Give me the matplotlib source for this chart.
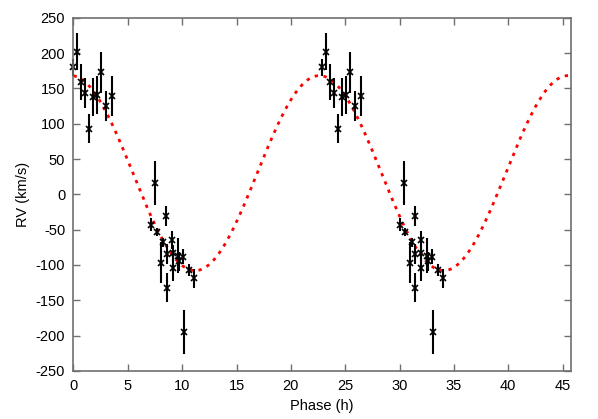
import numpy as np
import matplotlib
matplotlib.use('Agg')
import matplotlib.pyplot as plt

# Orbital period (h) and sinusoid fit parameters
period = 22.87
gamma = 30.0
k_amp = 138.0
phase0 = -0.25

# Measured RVs (one cycle), repeated once more at +period
phase = [0.0, 0.32, 0.72, 1.09, 1.45, 1.82, 2.19, 2.56, 2.99, 3.54,
         7.16, 7.5, 7.65, 8.05, 8.26, 8.51, 8.57, 8.57, 9.06, 9.12,
         9.12, 9.64, 9.75, 10.08, 10.19, 10.65, 11.12]
rv = [180, 202, 159, 143, 93, 138, 140, 173, 125, 139,
      -43, 16, -53, -97, -68, -31, -84, -132, -65, -83,
      -104, -87, -95, -88, -195, -107, -119]
rv_err = [12, 26, 26, 21, 20, 27, 27, 29, 21, 28,
          9, 31, 6, 29, 6, 14, 14, 20, 13, 12,
          19, 25, 14, 10, 31, 8, 13]

plt.rcParams['font.family'] = ['Liberation Sans', 'DejaVu Sans']
plt.rcParams['axes.unicode_minus'] = False

fig = plt.figure(figsize=(5.98, 4.19), dpi=100)
ax = fig.add_axes([0.1229, 0.1146, 0.8314, 0.8432])

xx = np.linspace(0, 2 * period, 600)
ax.plot(xx, gamma + k_amp * np.cos(2 * np.pi * (xx - phase0) / period),
        color='#ff0000', lw=2, dashes=(1.2, 2.0), zorder=1)

for off in (0, period):
    eb = ax.errorbar(np.array(phase) + off, rv, yerr=rv_err, fmt='x', color='black',
                     ms=4.5, mew=1.2, elinewidth=1.5, capsize=0, zorder=2)
    for art in eb.get_children():
        art.set_clip_on(False)

ax.set_xlim(0, 2 * period)
ax.set_ylim(-250, 250)
ax.set_xticks(np.arange(0, 46, 5))
ax.set_yticks(np.arange(-250, 251, 50))
ax.tick_params(direction='in', length=5, width=1, color='#707070',
               top=True, right=True, labelsize=10.5, pad=6)
for s in ax.spines.values():
    s.set_color('#707070')
    s.set_linewidth(1.2)
ax.set_xlabel('Phase (h)', fontsize=10.5, labelpad=4)
ax.set_ylabel('RV (km/s)', fontsize=10.5, labelpad=4)

fig.savefig('out.png', dpi=100)
